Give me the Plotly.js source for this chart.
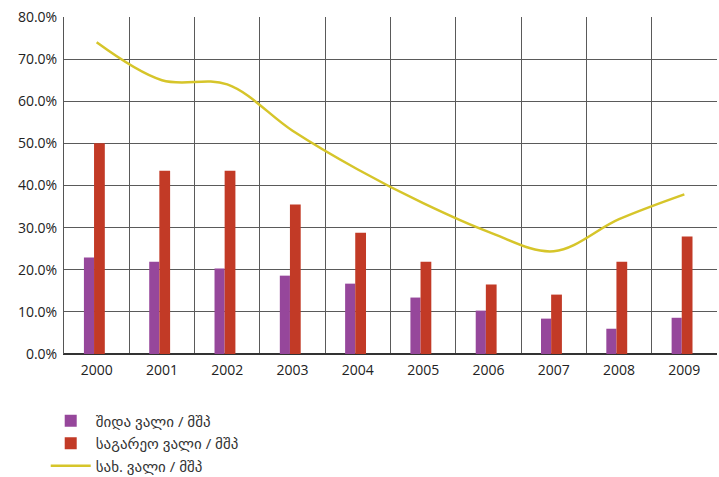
<!DOCTYPE html>
<html>
<head>
<meta charset="utf-8">
<script src="https://cdn.plot.ly/plotly-3.0.1.min.js"></script>
<style>html,body{margin:0;padding:0;background:#fff;}#chart{width:719px;height:477px;}</style>
</head>
<body>
<div id="chart"></div>
<script>
const years = ['2000','2001','2002','2003','2004','2005','2006','2007','2008','2009'];
const domesticDebt = [22.9, 21.9, 20.3, 18.6, 16.7, 13.4, 10.3, 8.4, 6.0, 8.6];
const externalDebt = [50.0, 43.5, 43.5, 35.5, 28.8, 21.9, 16.5, 14.1, 21.9, 27.9];
const totalDebt = [74.0, 65.0, 64.0, 53.0, 43.8, 35.8, 29.0, 24.4, 32.0, 37.9];
const seriesNames = ['შიდა ვალი / მშპ', 'საგარეო ვალი / მშპ', 'სახ. ვალი / მშპ'];

const fontFam = 'Open Sans, DejaVu Sans, sans-serif';
const data = [
  {type:'bar', name:seriesNames[0], x:years, y:domesticDebt, marker:{color:'#96479b'},
   offset:-0.195, width:0.155},
  {type:'bar', name:seriesNames[1], x:years, y:externalDebt, marker:{color:'#c23a26'},
   offset:-0.04, width:0.165},
  {type:'scatter', mode:'lines', name:seriesNames[2], x:years, y:totalDebt,
   line:{color:'#d6c52a', width:2.5, shape:'spline', smoothing:1}}
];
const layout = {
  width:719, height:477,
  margin:{l:64, r:2, t:17, b:123, autoexpand:false},
  paper_bgcolor:'#fff', plot_bgcolor:'#fff',
  font:{family:fontFam, size:14, color:'#333'},
  barmode:'group', bargap:0.68, bargroupgap:0,
  showlegend:true,
  legend:{orientation:'v', x:-0.028, xanchor:'left', y:-0.15, yanchor:'top',
          font:{family:fontFam, size:15, color:'#333'}, tracegroupgap:0, itemwidth:40},
  xaxis:{type:'category', tickson:'boundaries', showgrid:true, gridcolor:'#5a5a5a', gridwidth:1,
         ticks:'', showline:true, linecolor:'#333', linewidth:1, mirror:false,
         ticklabelstandoff:3,
         tickfont:{size:14, color:'#222'}, range:[-0.5, 9.5]},
  yaxis:{range:[0,80], dtick:10, tickformat:'.1f', ticksuffix:'%', showgrid:true,
         gridcolor:'#5a5a5a', gridwidth:1, zeroline:true, zerolinecolor:'#333', zerolinewidth:1.5,
         showline:true, linecolor:'#555', linewidth:1, ticks:'', ticklen:0,
         ticklabelstandoff:3,
         tickfont:{size:14, color:'#222'}}
};
Plotly.newPlot('chart', data, layout, {displayModeBar:false, responsive:false});
</script>
</body>
</html>
